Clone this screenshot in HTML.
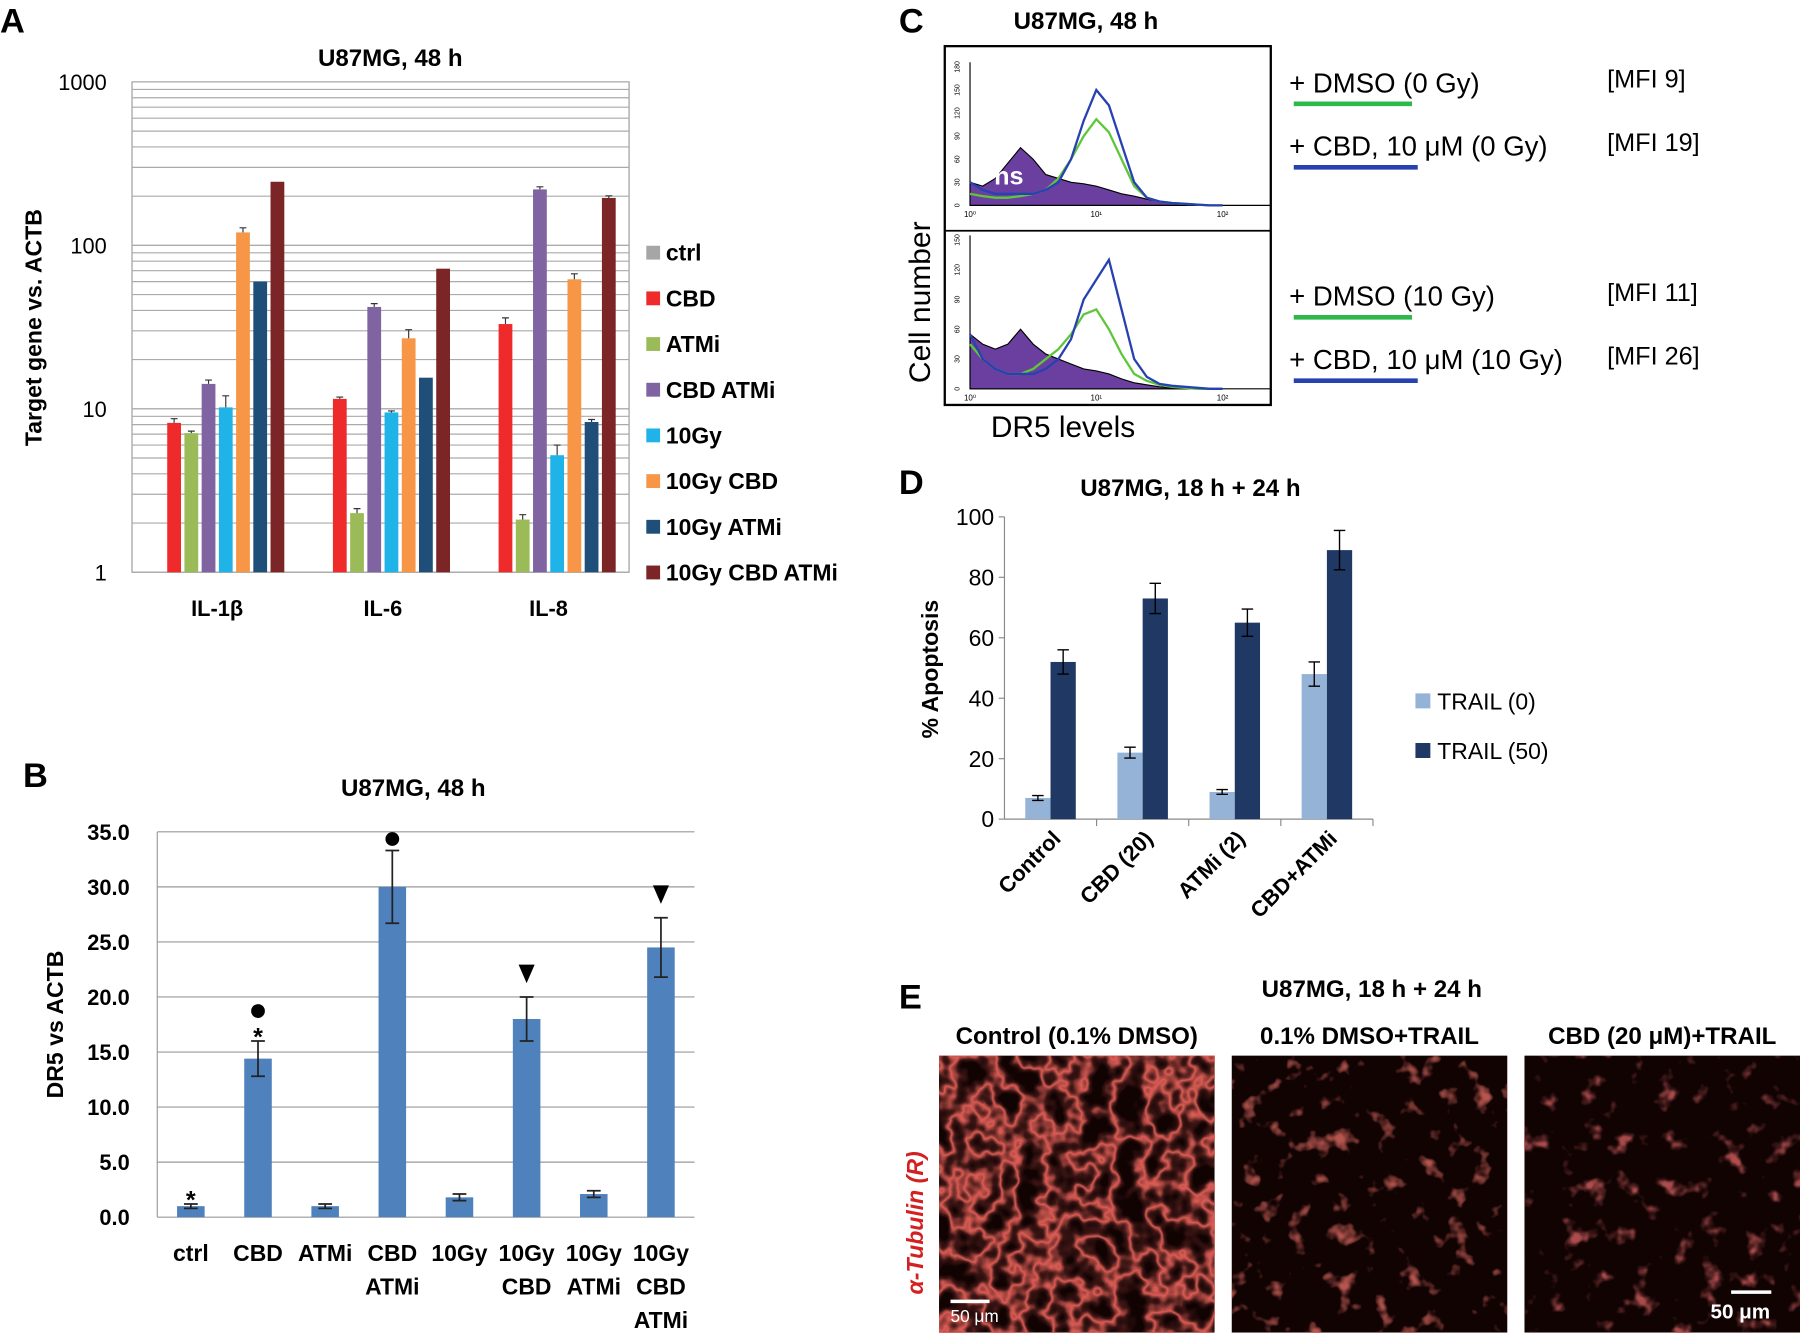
<!DOCTYPE html>
<html><head><meta charset="utf-8"><style>
html,body{margin:0;padding:0;background:#fff}
svg{display:block;font-family:"Liberation Sans",sans-serif}
</style></head><body>
<svg id="s" width="1800" height="1336" viewBox="0 0 1568 1158" preserveAspectRatio="none" xmlns="http://www.w3.org/2000/svg">
<defs>
<filter id="cellsA" x="0" y="0" width="100%" height="100%"><feTurbulence type="fractalNoise" baseFrequency="0.035" numOctaves="3" seed="3"/><feColorMatrix type="matrix" values="0 0 0 0 0.8  0 0 0 0 0.12  0 0 0 0 0.1  1 0 0 0 0"/><feComponentTransfer><feFuncA type="table" tableValues="0 0 0 0 0.2 0.95 0.2 0 0 0 0"/></feComponentTransfer></filter>
<filter id="cellsB" x="0" y="0" width="100%" height="100%"><feTurbulence type="fractalNoise" baseFrequency="0.05" numOctaves="3" seed="7"/><feColorMatrix type="matrix" values="0 0 0 0 0.62  0 0 0 0 0.12  0 0 0 0 0.1  1 0 0 0 0"/><feComponentTransfer><feFuncA type="table" tableValues="0 0 0 0 0 0 0 0.5 0.85 0.9 0.9"/></feComponentTransfer></filter>
<filter id="cellsC" x="0" y="0" width="100%" height="100%"><feTurbulence type="fractalNoise" baseFrequency="0.05" numOctaves="3" seed="11"/><feColorMatrix type="matrix" values="0 0 0 0 0.58  0 0 0 0 0.1  0 0 0 0 0.1  1 0 0 0 0"/><feComponentTransfer><feFuncA type="table" tableValues="0 0 0 0 0 0 0 0.3 0.8 0.9 0.9"/></feComponentTransfer></filter>
</defs>
<g id="gA"></g>
<g id="gB"></g>
<g id="gC"></g>
<g id="gD"></g>
<g id="gE"></g>
</svg>
<script>
// ---- Panel A data ----
const aGenes = ["IL-1β","IL-6","IL-8"];
const aSeries = ["ctrl","CBD","ATMi","CBD ATMi","10Gy","10Gy CBD","10Gy ATMi","10Gy CBD ATMi"];
const aColors = ["#a6a6a6","#ee2a2a","#9bbb59","#8064a2","#1fb3e8","#f79646","#1f4e79","#7b2526"];
const aIL1b = [1,8.2,7.1,14.2,10.2,120,60,245];
const aIL6 = [1,11.5,2.3,42,9.5,27,15.5,72];
const aIL8 = [1,33,2.1,220,5.2,62,8.3,195];
const aErr = [[0,0.5,0.2,0.8,1.8,8,0,0],[0,0.3,0.15,2,0.2,3.5,0,0],[0,3,0.15,8,0.8,5,0.3,6]];
const aTicks = [1,10,100,1000];
// ---- Panel B data ----
const bCats = [["ctrl"],["CBD"],["ATMi"],["CBD","ATMi"],["10Gy"],["10Gy","CBD"],["10Gy","ATMi"],["10Gy","CBD","ATMi"]];
const bVals = [1.0,14.4,1.0,30.0,1.8,18.0,2.1,24.5];
const bErrs = [0.2,1.6,0.2,3.3,0.3,2.0,0.3,2.7];
const bTicks = [0,5,10,15,20,25,30,35];
// ---- Panel C data (histograms, log10 fluorescence 0..2.0 step 0.1) ----
const cTopPurple = [30,25,35,55,75,60,40,35,30,28,25,20,15,12,8,5,3,2,1,0,0];
const cTopGreen = [15,12,10,10,12,15,20,35,60,90,112,95,60,25,10,5,3,2,1,0,0];
const cTopBlue = [30,20,15,15,15,15,20,30,60,110,150,130,80,30,10,5,3,2,1,0,0];
const cBotPurple = [55,45,40,45,60,45,35,30,25,20,18,15,10,6,4,2,1,0,0,0,0];
const cBotGreen = [45,30,20,15,15,20,30,40,55,75,80,60,35,15,8,4,2,1,0,0,0];
const cBotBlue = [55,30,20,15,15,15,20,30,50,90,110,130,80,30,12,5,3,2,1,0,0];
// ---- Panel D data ----
const dCats = ["Control","CBD (20)","ATMi (2)","CBD+ATMi"];
const dTrail0 = [7,22,9,48];
const dTrail0Err = [0.8,1.8,0.8,4];
const dTrail50 = [52,73,65,89];
const dTrail50Err = [4,5,4.5,6.5];
const dTicks = [0,20,40,60,80,100];

const NS="http://www.w3.org/2000/svg";
function mk(p,tag,at,txt){const e=document.createElementNS(NS,tag);for(const k in at)e.setAttribute(k,at[k]);if(txt!==undefined)e.textContent=txt;p.appendChild(e);return e;}

// ===== Panel A =====
const gA=document.getElementById('gA');
const aX0=115,aX1=548,aY1=71,aY0=496;
const ay=v=>aY0-(Math.log10(v))*(aY0-aY1)/3;
let t=mk(gA,'text',{x:0,y:28,'font-size':30,'font-weight':'bold'},'A');

mk(gA,'rect',{x:aX0,y:aY1,width:aX1-aX0,height:aY0-aY1,fill:'none',stroke:'#999','stroke-width':1});
for(let d=0;d<3;d++)for(let m=1;m<=10;m++){const v=Math.pow(10,d)*m;const gl=mk(gA,'line',{x1:aX0,x2:aX1,y1:ay(v),y2:ay(v),stroke:'#aaa','stroke-width':1});}
aTicks.forEach(v=>{const e=mk(gA,'text',{x:93,y:ay(v)+7,'font-size':19,'text-anchor':'end'},String(v));});
t=mk(gA,'text',{x:340,y:57,'font-size':21,'font-weight':'bold','text-anchor':'middle'},'U87MG, 48 h');
t=mk(gA,'text',{x:0,y:0,'font-size':20,'font-weight':'bold','text-anchor':'middle',transform:'translate(36,284) rotate(-90)'},'Target gene vs. ACTB');
const aData=[aIL1b,aIL6,aIL8];const gw=(aX1-aX0)/3;
aData.forEach((arr,gi)=>{const cx=aX0+gw*(gi+0.5)+2;
  arr.forEach((v,si)=>{const x=cx+(si-3.5)*15-6;const y=ay(v);
    const r=mk(gA,'rect',{x:x,y:y,width:12,height:aY0-y,fill:aColors[si]});
    const er=aErr[gi][si];if(er>0){const y2=ay(v+er);mk(gA,'path',{d:`M${x+6},${y} V${y2} M${x+3},${y2} H${x+9}`,stroke:'#333','stroke-width':1,fill:'none'});}
  });
  const l=mk(gA,'text',{x:cx,y:534,'font-size':19,'font-weight':'bold','text-anchor':'middle'},aGenes[gi]);
});
aSeries.forEach((s,i)=>{const y=219+i*39.6;const g=mk(gA,'g',{});
  mk(g,'rect',{x:563,y:y-6,width:12,height:12,fill:aColors[i]});mk(g,'text',{x:580,y:y+7,'font-size':20,'font-weight':'bold'},s);});

// ===== Panel B =====
const gB=document.getElementById('gB');
const bX0=137,bX1=605,bY0=1055,bY1=721;
const by=v=>bY0-v*(bY0-bY1)/35;
t=mk(gB,'text',{x:20,y:682,'font-size':30,'font-weight':'bold'},'B');
t=mk(gB,'text',{x:360,y:690,'font-size':21,'font-weight':'bold','text-anchor':'middle'},'U87MG,  48 h');
bTicks.forEach(v=>{const gl=mk(gB,'line',{x1:bX0,x2:bX1,y1:by(v),y2:by(v),stroke:'#999','stroke-width':1});
  const e=mk(gB,'text',{x:113,y:by(v)+7,'font-size':19,'font-weight':'bold','text-anchor':'end'},v.toFixed(1));});
mk(gB,'line',{x1:bX0,x2:bX0,y1:bY1,y2:bY0,stroke:'#999'});
t=mk(gB,'text',{x:0,y:0,'font-size':20,'font-weight':'bold','text-anchor':'middle',transform:'translate(55,888) rotate(-90)'},'DR5 vs ACTB');
const bw=(bX1-bX0)/8;
bVals.forEach((v,i)=>{const cx=bX0+bw*(i+0.5);const y=by(v);
  const r=mk(gB,'rect',{x:cx-12,y:y,width:24,height:bY0-y,fill:'#4f81bd'});
  const y1=by(v+bErrs[i]),y2=by(v-bErrs[i]);mk(gB,'path',{d:`M${cx},${y1} V${y2} M${cx-6},${y1} H${cx+6} M${cx-6},${y2} H${cx+6}`,stroke:'#222','stroke-width':1.5,fill:'none'});
  bCats[i].forEach((w,k)=>{const e=mk(gB,'text',{x:cx,y:1093+k*29,'font-size':20,'font-weight':'bold','text-anchor':'middle'},w);});
  const mtop=by(v+bErrs[i]);
  if(i===0||i===1){const e=mk(gB,'text',{x:cx,y:mtop+4,'font-size':22,'font-weight':'bold','text-anchor':'middle'},'*');}
  if(i===1||i===3){const c=mk(gB,'circle',{cx:cx,cy:i===1?by(v+bErrs[i])-26:by(v+bErrs[i])-10,r:6,fill:'#000'});}
  if(i===5||i===7){const yy=mtop-12;const p=mk(gB,'path',{d:`M${cx-7},${yy-16} H${cx+7} L${cx},${yy} Z`,fill:'#000'});}
});

// ===== Panel C =====
const gC=document.getElementById('gC');
t=mk(gC,'text',{x:783,y:28,'font-size':30,'font-weight':'bold'},'C');
t=mk(gC,'text',{x:946,y:25,'font-size':21,'font-weight':'bold','text-anchor':'middle'},'U87MG,  48 h');
mk(gC,'rect',{x:823,y:40,width:284,height:311,fill:'#fff',stroke:'#000','stroke-width':2});
function hist(y0,yTop,maxC,arrs,cols,fillFirst,ticks){
  const hx=l=>845+l*110;const hy=c=>y0-c*(y0-yTop)/maxC;
  mk(gC,'line',{x1:845,x2:1107,y1:y0,y2:y0,stroke:'#000'});mk(gC,'line',{x1:845,x2:845,y1:yTop-4,y2:y0,stroke:'#000'});
  ticks.forEach(c=>{mk(gC,'text',{x:0,y:0,'font-size':6,'text-anchor':'middle',transform:`translate(836,${hy(c)}) rotate(-90)`},String(c));});
  [0,1,2].forEach(k=>mk(gC,'text',{x:hx(k),y:y0+10,'font-size':7,'text-anchor':'middle'},'10'+['⁰','¹','²'][k]));
  arrs.forEach((arr,ai)=>{let d=`M${hx(0)},${hy(arr[0])}`;arr.forEach((c,i)=>{d+=` L${hx(i*0.1)},${hy(c)}`;});
    let p;if(ai===0&&fillFirst){p=mk(gC,'path',{d:d+` L${hx(2.0)},${y0} L${hx(0)},${y0} Z`,fill:'#6a3fa0',stroke:'#000','stroke-width':1});}
    else p=mk(gC,'path',{d:d,fill:'none',stroke:cols[ai],'stroke-width':2});
    });
}
hist(178,58,180,[cTopPurple,cTopGreen,cTopBlue],['#000','#5ec639','#2841b0'],true,[0,30,60,90,120,150,180]);
mk(gC,'line',{x1:823,x2:1107,y1:200,y2:200,stroke:'#000','stroke-width':1.5});
hist(337,208,150,[cBotPurple,cBotGreen,cBotBlue],['#000','#5ec639','#2841b0'],true,[0,30,60,90,120,150]);
t=mk(gC,'text',{x:866,y:160,'font-size':22,fill:'#fff','font-weight':'bold'},'ns');
t=mk(gC,'text',{x:0,y:0,'font-size':26,'text-anchor':'middle',transform:'translate(810,262) rotate(-90)'},'Cell number');
t=mk(gC,'text',{x:926,y:379,'font-size':26,'text-anchor':'middle'},'DR5 levels');
const cLeg=[['+ DMSO (0 Gy)','[MFI 9]',80,'#2db84a'],['+ CBD, 10 μM (0 Gy)','[MFI 19]',135,'#2841b0'],['+ DMSO (10 Gy)','[MFI 11]',265,'#2db84a'],['+ CBD, 10 μM (10 Gy)','[MFI 26]',320,'#2841b0']];
cLeg.forEach(l=>{const g=mk(gC,'g',{});
  mk(g,'text',{x:1123,y:l[2],'font-size':24},l[0]);mk(g,'text',{x:1400,y:l[2]-4,'font-size':22},l[1]);
  mk(g,'line',{x1:1127,x2:l[3]==='#2db84a'?1230:1235,y1:l[2]+10,y2:l[2]+10,stroke:l[3],'stroke-width':4});});

// ===== Panel D =====
const gD=document.getElementById('gD');
const dX0=875,dX1=1196,dY0=710,dY1=448;
const dy=v=>dY0-v*(dY0-dY1)/100;
t=mk(gD,'text',{x:783,y:428,'font-size':30,'font-weight':'bold'},'D');
t=mk(gD,'text',{x:1037,y:430,'font-size':21,'font-weight':'bold','text-anchor':'middle'},'U87MG,  18 h + 24 h');
mk(gD,'line',{x1:dX0,x2:dX0,y1:dY1,y2:dY0,stroke:'#888'});mk(gD,'line',{x1:dX0,x2:dX1,y1:dY0,y2:dY0,stroke:'#888'});
dTicks.forEach(v=>{mk(gD,'line',{x1:dX0-5,x2:dX0,y1:dy(v),y2:dy(v),stroke:'#888'});const e=mk(gD,'text',{x:866,y:dy(v)+7,'font-size':20,'text-anchor':'end'},String(v));});
t=mk(gD,'text',{x:0,y:0,'font-size':20,'font-weight':'bold','text-anchor':'middle',transform:'translate(817,580) rotate(-90)'},'% Apoptosis');
const dw=(dX1-dX0)/4;
dCats.forEach((c,i)=>{const cx=dX0+dw*(i+0.5);
  [[dTrail0,dTrail0Err,'#95b3d7',-22],[dTrail50,dTrail50Err,'#1f3864',0]].forEach((s,k)=>{const v=s[0][i],x=cx+s[3],y=dy(v);
    const r=mk(gD,'rect',{x:x,y:y,width:22,height:dY0-y,fill:s[2]});
    const e=s[1][i],y1=dy(v+e),y2=dy(v-e),mx=x+11;mk(gD,'path',{d:`M${mx},${y1} V${y2} M${mx-5},${y1} H${mx+5} M${mx-5},${y2} H${mx+5}`,stroke:'#000','stroke-width':1.2,fill:'none'});});
  mk(gD,'line',{x1:dX0+dw*(i+1),x2:dX0+dw*(i+1),y1:dY0,y2:dY0+6,stroke:'#888'});
  const e=mk(gD,'text',{x:0,y:0,'font-size':19,'font-weight':'bold','text-anchor':'end',transform:`translate(${cx+10},${728}) rotate(-45)`},c);
});
[['TRAIL (0)','#95b3d7',608],['TRAIL (50)','#1f3864',651]].forEach(l=>{const g=mk(gD,'g',{});
  mk(g,'rect',{x:1233,y:l[2]-7,width:13,height:13,fill:l[1]});mk(g,'text',{x:1252,y:l[2]+7,'font-size':20},l[0]);});

// ===== Panel E =====
const gE=document.getElementById('gE');
t=mk(gE,'text',{x:783,y:874,'font-size':30,'font-weight':'bold'},'E');
t=mk(gE,'text',{x:1195,y:864,'font-size':21,'font-weight':'bold','text-anchor':'middle'},'U87MG,  18 h + 24 h');
[['Control (0.1% DMSO)',818,'cellsA'],['0.1% DMSO+TRAIL',1073,'cellsB'],['CBD (20 μM)+TRAIL',1328,'cellsC']].forEach((m,i)=>{
  const e=mk(gE,'text',{x:m[1]+120,y:905,'font-size':21,'font-weight':'bold','text-anchor':'middle'},m[0]);
  const g=mk(gE,'g',{});
  mk(g,'rect',{x:m[1],y:915,width:240,height:240,fill:'#120303'});
  mk(g,'rect',{x:m[1],y:915,width:240,height:240,filter:'url(#'+m[2]+')'});
});
mk(gE,'line',{x1:828,x2:862,y1:1128,y2:1128,stroke:'#fff','stroke-width':3});
mk(gE,'text',{x:828,y:1146,'font-size':15,fill:'#fff'},'50 μm');
mk(gE,'line',{x1:1508,x2:1543,y1:1120,y2:1120,stroke:'#fff','stroke-width':3});
mk(gE,'text',{x:1490,y:1143,'font-size':18,fill:'#fff','font-weight':'bold'},'50 μm');
t=mk(gE,'text',{x:0,y:0,'font-size':20,'font-weight':'bold','font-style':'italic',fill:'#d42020','text-anchor':'middle',transform:'translate(804,1060) rotate(-90)'},'α-Tubulin (R)');
</script>
</body></html>
